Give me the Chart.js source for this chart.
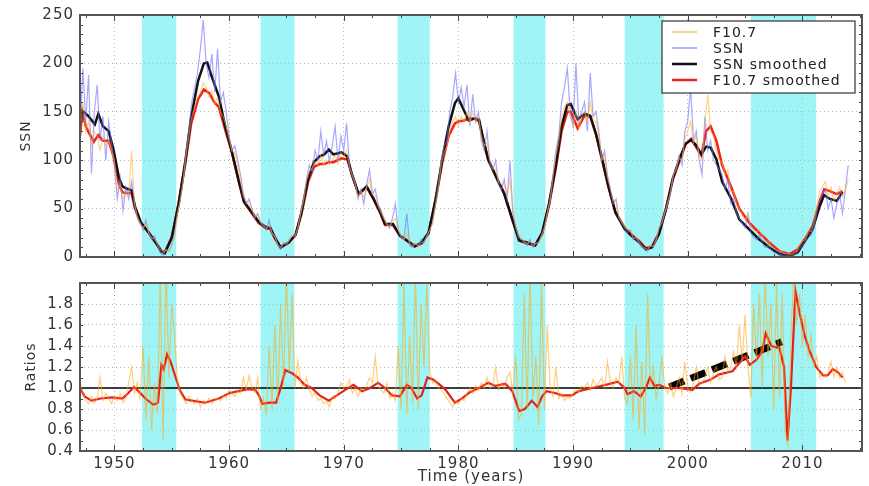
<!DOCTYPE html>
<html>
<head>
<meta charset="utf-8">
<script src="https://cdn.jsdelivr.net/npm/chart.js@4.4.0/dist/chart.umd.min.js"></script>
<style>
  body { margin: 0; background: #fff; }
  #wrap { position: relative; width: 869px; height: 486px; }
  #topChart { position: absolute; left: 0; top: 0; }
  #botChart { position: absolute; left: 0; top: 268px; }
</style>
</head>
<body>
<div id="wrap">
  <canvas id="topChart" width="869" height="272" style="width:869px;height:272px"></canvas>
  <canvas id="botChart" width="869" height="218" style="width:869px;height:218px"></canvas>
</div>
<script>
// solar minimum intervals (cyan bands)
const bandStart = [1952.4, 1962.75, 1974.7, 1984.8, 1994.5, 2005.5];
const bandEnd   = [1955.4, 1965.7, 1977.5, 1987.6, 1997.9, 2011.2];

const yearTicks = [1950, 1960, 1970, 1980, 1990, 2000, 2010];
const ssnTicks = [0, 50, 100, 150, 200, 250];
const ratioTicks = [0.4, 0.6, 0.8, 1.0, 1.2, 1.4, 1.6, 1.8, 2.0];

// monthly-ish series, sampled every quarter from 1947.0
const RAW_START = 1947.0;
const ssnRaw = [
  130,195,140,188, 86,150,178,120, 145,100,140,118, 95,60,82,48, 72,60,78,55,
  40,35,28,38, 24,18,22,12, 4,2,8,6, 12,25,45,60, 78,110,132,160,
  175,190,215,245, 200,185,210,170, 215,160,170,150, 125,110,115,100, 85,65,55,60,
  50,40,45,35, 32,28,38,24, 22,12,8,15, 12,18,22,20, 30,45,60,80,
  95,88,110,100, 130,105,120,98, 115,135,100,125, 110,138,95,85, 78,60,70,55,
  75,90,65,70, 55,48,40,35, 30,40,55,28, 20,18,45,12, 10,14,12,18,
  15,22,28,35, 55,75,100,115, 120,150,165,190, 160,175,155,178, 135,168,140,150,
  120,110,130,95, 90,100,75,70, 80,60,100,45, 30,20,18,15, 12,18,10,14,
  15,22,30,45, 60,85,110,125, 160,175,195,150, 135,200,140,150, 160,130,190,145,
  150,130,100,110, 85,70,55,60, 40,35,30,25, 28,18,20,14, 10,8,6,12,
  10,18,30,35, 45,55,65,85, 90,105,95,130, 140,175,120,130, 100,85,145,110,
  120,100,95,90, 85,70,80,55, 60,45,40,35, 30,45,25,20, 18,22,15,10,
  12,8,5,4, 3,2,1,2, 0,2,4,8, 12,15,25,22, 30,45,60,65,
  70,50,60,40, 55,65,45,70, 95
];
const f107Raw = [
  125,160,130,140, 115,130,125,110, 125,115,120,110, 100,70,75,60, 68,65,110,55,
  42,35,30,35, 25,20,18,14, 8,5,7,6, 14,22,45,58, 80,105,125,145,
  155,165,170,180, 175,165,172,158, 165,150,145,135, 122,110,108,95, 78,62,58,55,
  48,42,44,36, 33,30,32,25, 20,13,10,14, 14,17,22,22, 30,45,58,78,
  88,92,98,95, 105,95,100,96, 100,105,98,108, 104,110,92,84, 75,62,68,62,
  72,80,65,64, 52,46,40,34, 32,36,40,28, 22,18,25,14, 12,14,11,15,
  15,22,28,35, 52,70,95,108, 115,130,140,145, 135,145,140,150, 138,150,140,145,
  125,115,118,100, 92,90,78,75, 75,65,80,48, 32,22,20,16, 14,16,12,14,
  15,22,30,45, 58,82,105,118, 145,155,160,145, 135,150,132,145, 150,140,160,142,
  140,125,100,105, 82,72,58,58, 42,36,32,28, 28,20,20,16, 12,9,8,12,
  11,18,30,36, 46,56,68,85, 92,102,100,122, 130,140,118,125, 105,100,140,168,
  130,125,110,100, 98,85,90,68, 68,55,50,44, 38,45,32,28, 26,28,22,16,
  17,12,9,7, 6,5,3,4, 2,4,6,12, 16,18,28,26, 35,52,68,72,
  78,62,72,58, 65,72,62,70, 80
];
const ratioRaw = [
  1.05,0.95,0.88,0.85, 0.92,0.86,0.9,1.1, 0.88,0.95,0.9,0.85, 0.92,0.88,0.95,0.86, 0.9,1.05,1.2,0.95,
  1.05,0.9,1.4,0.7, 1.3,0.6,1.05,0.75, 2.1,0.5,2.2,1.1, 1.8,1.5,1.05,0.95, 0.9,0.85,0.92,0.88,
  0.85,0.9,0.82,0.88, 0.86,0.9,0.85,0.88, 0.9,0.88,0.93,0.9, 0.98,0.95,0.92,0.97, 0.95,1.1,0.98,1.12,
  1.0,0.96,1.1,0.8, 0.9,0.75,1.4,0.8, 1.6,0.85,1.8,1.0, 2.1,1.15,1.9,1.0, 1.25,1.05,1.0,1.1,
  0.98,0.92,0.96,0.88, 0.9,0.85,0.88,0.82, 0.92,0.9,0.96,1.05, 1.0,1.02,1.08,0.95, 1.0,0.92,1.0,0.98,
  1.02,1.1,1.05,1.3, 1.02,0.98,0.95,1.05, 0.9,0.95,0.88,1.4, 0.8,2.0,0.75,1.5, 0.85,2.1,0.8,1.8,
  1.2,2.0,1.15,1.05, 1.08,1.0,0.98,0.95, 0.9,0.86,0.82,0.88, 0.85,0.9,0.88,0.95, 1.0,0.95,1.02,0.98,
  1.05,1.0,1.1,1.0, 1.02,1.2,0.98,1.05, 1.0,1.1,1.15,0.95, 1.3,0.7,0.75,1.9, 0.8,2.1,0.9,1.3,
  0.65,2.0,0.8,1.6, 1.0,0.92,1.2,0.9, 0.95,0.88,0.92,0.9, 0.95,0.98,0.96,1.02, 1.0,1.05,0.98,1.08,
  1.02,1.05,1.1,1.0, 1.25,1.05,1.0,1.1, 1.05,1.3,0.9,0.85, 1.3,0.7,1.6,0.6, 1.25,0.55,1.9,1.0,
  1.2,0.9,1.05,1.3, 1.0,0.95,1.05,0.92, 1.0,1.1,0.95,1.25, 1.0,0.96,1.05,1.2, 1.02,1.05,1.1,1.2,
  1.05,1.15,1.2,1.08, 1.1,1.3,1.15,1.2, 1.35,1.2,1.6,1.25, 1.7,1.2,0.9,1.8, 1.25,1.9,1.0,2.1,
  1.3,1.8,0.8,2.0, 0.9,1.9,0.6,0.45, 1.5,2.1,1.6,1.9, 1.4,1.7,1.3,1.5, 1.2,1.3,1.1,1.15,
  1.1,1.15,1.25,1.1, 1.2,1.1,1.15,1.05
];

// smoothed curves, read at irregular years
const ssnSmYears = [1947.0,1947.2,1947.7,1948.3,1948.6,1949.0,1949.5,1949.9,1950.4,1950.7,1951.0,1951.5,1951.8,1952.3,1953.0,1953.6,1954.1,1954.4,1955.0,1955.6,1956.2,1956.7,1957.3,1957.8,1958.1,1958.5,1959.1,1959.7,1960.2,1960.8,1961.3,1962.0,1962.6,1963.2,1963.6,1964.0,1964.5,1965.2,1965.8,1966.3,1966.9,1967.4,1967.9,1968.3,1968.7,1969.1,1969.8,1970.3,1970.7,1971.3,1972.0,1972.6,1973.2,1973.6,1974.3,1974.9,1975.5,1976.2,1976.8,1977.4,1978.0,1978.6,1979.15,1979.7,1980.0,1980.5,1980.9,1981.4,1981.8,1982.2,1982.6,1983.4,1984.0,1984.7,1985.3,1986.0,1986.7,1987.3,1987.9,1988.5,1989.0,1989.5,1989.8,1990.4,1991.0,1991.5,1992.0,1992.6,1993.1,1993.7,1994.5,1995.0,1995.8,1996.35,1996.9,1997.5,1998.1,1998.7,1999.25,1999.8,2000.3,2000.7,2001.2,2001.6,2002.0,2002.5,2003.0,2003.8,2004.5,2005.4,2006.25,2007.1,2008.0,2008.9,2009.6,2010.3,2010.9,2011.5,2011.9,2012.4,2013.0,2013.5];
const ssnSm = [135,151,146,137,148,135,130,112,82,73,71,69,52,36,25,15,6,4,20,55,100,145,182,200,201,186,166,133,111,81,57,46,36,31,30,20,10,15,23,45,81,98,104,106,111,106,108,104,86,65,73,60,46,34,34,22,17,11,15,25,59,101,135,159,164,151,141,143,142,120,101,80,65,39,17,15,12,25,55,95,135,157,158,142,148,146,127,98,72,46,29,23,15,8,10,24,49,81,100,117,121,116,106,114,113,101,78,60,39,28,18,10,3,1,5,18,29,52,64,60,58,67];
const f107SmYears = [1947.0,1947.2,1947.5,1947.7,1948.2,1948.6,1949.0,1949.5,1949.9,1950.4,1950.7,1951.0,1951.5,1951.8,1952.3,1953.0,1953.6,1954.1,1954.4,1955.0,1955.6,1956.2,1956.7,1957.3,1957.8,1958.3,1958.7,1959.1,1959.7,1960.2,1960.8,1961.3,1962.0,1962.6,1963.2,1963.6,1964.0,1964.5,1965.2,1965.8,1966.3,1966.9,1967.4,1967.9,1968.3,1968.7,1969.1,1969.8,1970.3,1970.7,1971.3,1972.0,1972.6,1973.2,1973.6,1974.3,1974.9,1975.5,1976.2,1976.8,1977.4,1978.0,1978.6,1979.15,1979.7,1980.0,1980.5,1980.9,1981.4,1981.8,1982.2,1982.6,1983.4,1984.0,1984.7,1985.3,1986.0,1986.7,1987.3,1987.9,1988.5,1989.0,1989.5,1989.8,1990.4,1991.0,1991.5,1992.0,1992.6,1993.1,1993.7,1994.5,1995.0,1995.8,1996.35,1996.9,1997.5,1998.1,1998.7,1999.25,1999.8,2000.3,2000.7,2001.2,2001.6,2002.0,2002.5,2003.0,2003.8,2004.5,2005.4,2006.25,2007.1,2008.0,2008.9,2009.6,2010.3,2010.9,2011.5,2011.9,2012.4,2013.0,2013.5];
const f107Sm = [125,150,135,130,119,126,120,120,105,75,67,66,66,50,35,25,15,6,5,20,55,98,138,163,173,169,160,155,130,110,80,57,45,35,30,29,19,10,15,23,44,78,93,96,96,98,98,102,101,85,65,72,60,45,33,33,22,17,11,14,25,58,98,125,138,140,141,143,143,140,120,100,80,66,39,17,14,12,24,53,92,130,150,150,133,146,145,127,97,72,46,30,24,16,9,11,25,50,80,98,116,122,114,105,130,135,120,95,72,50,35,25,15,6,3,8,20,32,57,70,68,65,68];
const ratioSmYears = [1947.0,1947.4,1948.0,1948.8,1949.8,1950.7,1951.2,1951.7,1952.1,1952.7,1953.4,1953.8,1954.1,1954.3,1954.6,1954.9,1955.2,1955.7,1956.2,1957.3,1957.9,1959.1,1960.0,1960.8,1961.7,1962.3,1962.6,1962.9,1963.5,1964.1,1964.5,1964.9,1965.5,1966.0,1966.6,1967.2,1967.9,1968.7,1969.4,1970.1,1970.85,1971.6,1972.3,1973.0,1973.6,1974.2,1974.9,1975.5,1975.9,1976.4,1976.8,1977.3,1977.8,1978.4,1978.9,1979.7,1980.3,1981.0,1981.8,1982.6,1983.2,1984.1,1984.7,1985.3,1985.8,1986.4,1986.9,1987.3,1987.7,1988.5,1989.0,1989.9,1990.5,1991.7,1992.85,1993.9,1994.5,1994.75,1995.3,1995.9,1996.35,1996.7,1997.1,1997.5,1998.1,1999.3,2000.4,2001.0,2002.0,2002.75,2003.9,2004.6,2005.0,2005.4,2006.0,2006.5,2006.8,2007.3,2008.0,2008.4,2008.7,2009.0,2009.4,2009.75,2010.2,2010.6,2011.2,2011.8,2012.2,2012.65,2013.1,2013.5];
const ratioSm = [1.0,0.92,0.88,0.9,0.91,0.9,0.95,1.01,0.97,0.9,0.84,0.86,1.22,1.18,1.32,1.25,1.15,0.98,0.89,0.87,0.86,0.9,0.95,0.97,0.99,0.98,0.93,0.85,0.86,0.86,1.0,1.17,1.14,1.1,1.03,1.0,0.93,0.88,0.93,0.98,1.03,0.97,1.0,1.05,1.0,0.93,0.92,1.03,1.0,0.9,0.93,1.1,1.08,1.03,0.98,0.86,0.9,0.96,1.0,1.05,1.02,1.04,0.97,0.78,0.8,0.88,0.82,0.92,0.97,0.95,0.93,0.93,0.97,1.0,1.03,1.06,1.0,0.94,0.97,0.92,1.0,1.1,1.02,1.03,1.0,1.0,0.98,1.04,1.08,1.13,1.16,1.25,1.3,1.22,1.27,1.35,1.52,1.4,1.38,1.2,0.5,1.0,1.92,1.72,1.5,1.36,1.2,1.12,1.12,1.18,1.15,1.1];

// unity reference and the hand-drawn trend
const refYears = [1947.0, 2015.2];
const refValues = [1.0, 1.0];
const trendYears = [1998.4, 2008.2];
const trendValues = [1.01, 1.44];

const X_MIN = 1947.0, X_MAX = 2015.2;
const FONT = "'DejaVu Sans', sans-serif";

function pts(xs, ys) { return xs.map((x, i) => ({ x: x, y: ys[i] })); }
function quarterly(ys) { return ys.map((y, i) => ({ x: RAW_START + i / 4, y: y })); }

// the original text is set a bit wide
const spacingPlugin = {
  id: 'spacing',
  beforeDraw(chart) { chart.ctx.letterSpacing = '1px'; }
};

const bandsPlugin = {
  id: 'bands',
  beforeDraw(chart) {
    const { ctx, chartArea: a, scales: { x } } = chart;
    ctx.save();
    ctx.fillStyle = '#9ff5f5';
    for (let i = 0; i < bandStart.length; i++) {
      const x0 = x.getPixelForValue(bandStart[i]);
      const x1 = x.getPixelForValue(bandEnd[i]);
      ctx.fillRect(x0, a.top, x1 - x0, a.bottom - a.top);
    }
    ctx.restore();
  }
};

function frameTicks(yMinor) {
  return {
    id: 'frame',
    afterDraw(chart) {
      const { ctx, chartArea: a, scales: { x, y } } = chart;
      ctx.save();
      ctx.strokeStyle = '#444';
      ctx.lineWidth = 1;
      ctx.beginPath();
      for (let v = 1947.5; v < X_MAX; v += 2.5) {
        const px = Math.round(x.getPixelForValue(v)) + 0.5;
        const len = (v % 10 === 0) ? 6 : 3;
        ctx.moveTo(px, a.top); ctx.lineTo(px, a.top + len);
        ctx.moveTo(px, a.bottom); ctx.lineTo(px, a.bottom - len);
      }
      for (let v = y.min; v <= y.max + 1e-9; v += yMinor) {
        const py = Math.round(y.getPixelForValue(v)) + 0.5;
        ctx.moveTo(a.left, py); ctx.lineTo(a.left + 3, py);
        ctx.moveTo(a.right, py); ctx.lineTo(a.right - 3, py);
      }
      ctx.stroke();
      ctx.strokeStyle = '#555';
      ctx.lineWidth = 2;
      ctx.strokeRect(a.left, a.top, a.right - a.left, a.bottom - a.top);
      ctx.restore();
    }
  };
}

const legendItems = [
  { label: 'F10.7', color: 'rgba(240,190,90,0.9)', width: 1.5 },
  { label: 'SSN', color: 'rgba(140,140,255,0.9)', width: 1.5 },
  { label: 'SSN smoothed', color: '#111', width: 2.5 },
  { label: 'F10.7 smoothed', color: '#ee2222', width: 2.5 }
];
const legendPlugin = {
  id: 'boxLegend',
  afterDraw(chart) {
    const ctx = chart.ctx;
    const bx = 662, by = 21, bw = 193, bh = 72;
    ctx.save();
    ctx.fillStyle = '#fff';
    ctx.fillRect(bx, by, bw, bh);
    ctx.strokeStyle = '#333';
    ctx.lineWidth = 1.2;
    ctx.strokeRect(bx, by, bw, bh);
    ctx.font = '14px ' + FONT;
    ctx.textBaseline = 'middle';
    legendItems.forEach((it, i) => {
      const yy = 32 + i * 16;
      ctx.strokeStyle = it.color;
      ctx.lineWidth = it.width;
      ctx.beginPath(); ctx.moveTo(672, yy); ctx.lineTo(697, yy); ctx.stroke();
      ctx.fillStyle = '#222';
      ctx.fillText(it.label, 713, yy + 1);
    });
    ctx.restore();
  }
};

function xScale(showLabels) {
  return {
    type: 'linear', min: X_MIN, max: X_MAX,
    afterBuildTicks: s => { s.ticks = yearTicks.map(v => ({ value: v })); },
    afterFit: s => { s.height = showLabels ? 35 : 0; },
    grid: { color: '#b8b8b8', lineWidth: 1, drawTicks: false },
    border: { display: false, dash: [1, 3] },
    ticks: { display: showLabels, padding: 4, color: '#333', font: { family: FONT, size: 15 },
             callback: v => String(v) },
    title: { display: showLabels, text: 'Time (years)', color: '#333', padding: 0, font: { family: FONT, size: 15 } }
  };
}

function lineSet(data, color, width, extra) {
  return Object.assign({
    type: 'line', data: data, borderColor: color, borderWidth: width,
    pointRadius: 0, tension: 0, fill: false, clip: 0
  }, extra || {});
}

new Chart(document.getElementById('topChart'), {
  type: 'line',
  data: {
    datasets: [
      lineSet(quarterly(f107Raw), 'rgba(255,175,40,0.55)', 1.2),
      lineSet(quarterly(ssnRaw), 'rgba(110,110,255,0.6)', 1.2),
      lineSet(pts(ssnSmYears, ssnSm), '#111', 2.5),
      lineSet(pts(f107SmYears, f107Sm), '#ee2222', 2.5)
    ]
  },
  options: {
    responsive: false, animation: false, events: [],
    layout: { padding: { top: 14, right: 7, bottom: 2, left: 0 } },
    plugins: { legend: { display: false }, tooltip: { enabled: false } },
    scales: {
      x: xScale(false),
      y: {
        type: 'linear', min: 0, max: 250,
        afterBuildTicks: s => { s.ticks = ssnTicks.map(v => ({ value: v })); },
        afterFit: s => { s.width = 80; },
        grid: { color: '#b8b8b8', drawTicks: false },
        border: { display: false, dash: [1, 3] },
        ticks: { padding: 6, color: '#333', font: { family: FONT, size: 15 } },
        title: { display: true, text: 'SSN', color: '#333', padding: { top: 18, bottom: 0 }, font: { family: FONT, size: 14 } }
      }
    }
  },
  plugins: [spacingPlugin, bandsPlugin, frameTicks(10), legendPlugin]
});

new Chart(document.getElementById('botChart'), {
  type: 'line',
  data: {
    datasets: [
      lineSet(quarterly(ratioRaw), 'rgba(255,165,20,0.55)', 1.2),
      lineSet(pts(ratioSmYears, ratioSm), '#e62020', 2.2),
      lineSet(pts(refYears, refValues), '#000', 1.6),
      lineSet(pts(trendYears, trendValues), '#000', 7, { borderDash: [16, 7], borderCapStyle: 'butt' })
    ]
  },
  options: {
    responsive: false, animation: false, events: [],
    layout: { padding: { top: 2, right: 7, bottom: 0, left: 0 } },
    plugins: { legend: { display: false }, tooltip: { enabled: false } },
    scales: {
      x: xScale(true),
      y: {
        type: 'linear', min: 0.4, max: 2.0,
        afterBuildTicks: s => { s.ticks = ratioTicks.map(v => ({ value: v })); },
        afterFit: s => { s.width = 80; },
        grid: { color: '#b8b8b8', drawTicks: false },
        border: { display: false, dash: [1, 3] },
        ticks: { padding: 6, color: '#333', font: { family: FONT, size: 15 },
                 callback: v => (v > 1.95 ? '' : v.toFixed(1)) },
        title: { display: true, text: 'Ratios', color: '#333', padding: { top: 23, bottom: 0 }, font: { family: FONT, size: 14 } }
      }
    }
  },
  plugins: [spacingPlugin, bandsPlugin, frameTicks(0.1)]
});
</script>
</body>
</html>
